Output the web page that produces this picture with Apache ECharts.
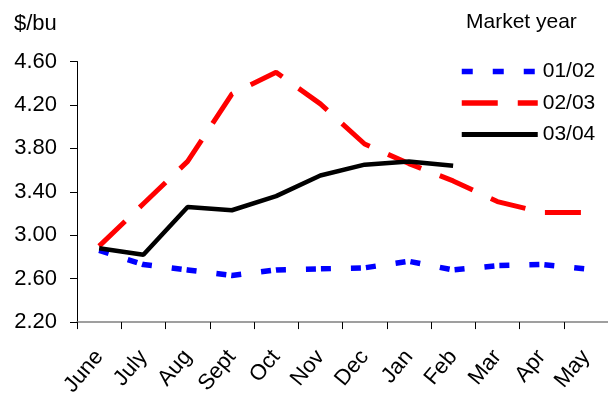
<!DOCTYPE html>
<html><head><meta charset="utf-8">
<script src="https://cdn.jsdelivr.net/npm/echarts@6/dist/echarts.min.js"></script>
<style>html,body{margin:0;padding:0;background:#fff}#c{width:608px;height:399px}</style>
</head><body><div id="c"></div>
<script>
var categories = ['June','July','Aug','Sept','Oct','Nov','Dec','Jan','Feb','Mar','Apr','May'];
var seriesNames = ['01/02','02/03','03/04'];
var s0102 = [2.86, 2.73, 2.68, 2.63, 2.68, 2.69, 2.70, 2.76, 2.68, 2.72, 2.73, 2.69];
var s0203 = [2.90, 3.29, 3.68, 4.30, 4.50, 4.21, 3.84, 3.66, 3.50, 3.31, 3.21, 3.21];
var s0304 = [2.88, 2.82, 3.26, 3.23, 3.36, 3.55, 3.65, 3.68, 3.64, null, null, null];
var yTicks = {min: 2.2, max: 4.6, interval: 0.4};

var FONT = 'Liberation Sans, Arial, sans-serif';
var chart = echarts.init(document.getElementById('c'), null, {renderer: 'canvas'});
chart.setOption({
  animation: false,
  backgroundColor: '#ffffff',
  grid: {left: 77, top: 61.5, bottom: 76, right: -9.4, containLabel: false},
  graphic: [
    {type: 'text', left: 14, top: 13, style: {text: '$/bu', font: '22px ' + FONT, fill: '#000'}},
    {type: 'text', left: 466, top: 12, style: {text: 'Market year', font: '21px ' + FONT, fill: '#000'}}
  ],
  legend: {
    show: true,
    orient: 'vertical', left: 454, top: 56, itemWidth: 76, itemHeight: 14, itemGap: 10.5,
    itemStyle: {opacity: 0},
    textStyle: {fontFamily: FONT, fontSize: 21, color: '#000', lineHeight: 21},
    data: [
      {name: seriesNames[0], itemStyle: {opacity: 0}, lineStyle: {color: '#0000ff', width: 5.5, type: [11, 20], cap: 'butt', opacity: 1}},
      {name: seriesNames[1], itemStyle: {opacity: 0}, lineStyle: {color: '#ff0000', width: 5.5, type: [36, 20], cap: 'butt', opacity: 1}},
      {name: seriesNames[2], itemStyle: {opacity: 0}, lineStyle: {color: '#000000', width: 5, type: 'solid', opacity: 1}}
    ]
  },
  xAxis: {
    type: 'category', data: categories, boundaryGap: true,
    axisLine: {lineStyle: {color: '#808080', width: 1.5}},
    axisTick: {show: true, alignWithLabel: false, length: 7, lineStyle: {color: '#000', width: 1}},
    axisLabel: {interval: 0, rotate: 50, margin: 31, fontFamily: FONT, fontSize: 22, color: '#000'}
  },
  yAxis: {
    type: 'value', min: yTicks.min, max: yTicks.max, interval: yTicks.interval,
    splitLine: {show: false},
    axisLine: {show: true, lineStyle: {color: '#000', width: 1}},
    axisTick: {show: true, length: 7, lineStyle: {color: '#000'}},
    axisLabel: {margin: 20, fontFamily: FONT, fontSize: 22, color: '#000', formatter: function (v) { return v.toFixed(2); }}
  },
  series: [
    {name: seriesNames[0], type: 'line', data: s0102, symbol: 'none', lineStyle: {color: '#0000ff', width: 5.5, type: [10, 20, 10, 5], cap: 'butt'}, itemStyle: {color: '#0000ff'}},
    {name: seriesNames[1], type: 'line', data: s0203, symbol: 'none', lineStyle: {color: '#ff0000', width: 5, type: [36, 20], cap: 'butt'}, itemStyle: {color: '#ff0000'}},
    {name: seriesNames[2], type: 'line', data: s0304, symbol: 'none', lineStyle: {color: '#000000', width: 4.5, type: 'solid'}, itemStyle: {color: '#000000'}}
  ]
});
</script></body></html>
